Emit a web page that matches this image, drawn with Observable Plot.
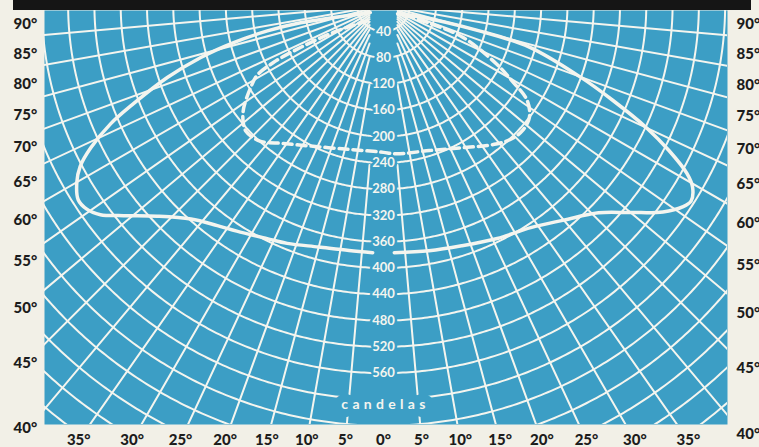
<!DOCTYPE html>
<html><head><meta charset="utf-8">
<script src="https://cdn.jsdelivr.net/npm/d3@7"></script>
<script src="https://cdn.jsdelivr.net/npm/@observablehq/plot@0.6"></script>
<style>
body{margin:0;background:#f2f0e7;}
#wrap{position:relative;width:759px;height:447px;overflow:hidden;background:#f2f0e7;}
#band{position:absolute;left:13px;top:0;width:738px;height:10px;background:#151515;}
</style></head><body><div id="wrap"><div id="chart"></div><div id="band"></div></div>
<script>
// ---- data ----
const candelaTicks = [40, 80, 120, 160, 200, 240, 280, 320, 360, 400, 440, 480, 520, 560];
const arcValues = [40, 80, 120, 160, 200, 240, 280, 320, 360, 400, 440, 480, 520, 560, 600, 640, 680, 720, 760, 800, 840, 880];
const radialAngles = [5, 10, 15, 20, 25, 30, 35, 40, 45, 50, 55, 60, 65, 70, 75, 80, 85, 90];
const radialStartCd = [244, 123, 82, 62, 50, 43, 37, 33, 30, 28, 26, 25, 24, 23, 22, 22, 21, 21];
const lateralLabels = [-35, -30, -25, -20, -15, -10, -5, 0, 5, 10, 15, 20, 25, 30, 35];
const verticalLabels = [90, 85, 80, 75, 70, 65, 60, 55, 50, 45, 40];

// solid curve (angle from nadir in degrees, candelas), left and right halves
const solidLeftAngle = [-61, -76, -78, -77.5, -76, -74, -71.5, -68.5, -66.5, -64, -62, -60, -57.5, -55.5, -53.5, -51, -47, -42, -37, -33, -26.5, -22, -15, -8, -2.5];
const solidLeftCd    = [23, 78, 129, 181, 235, 290, 347, 409, 453, 496, 523, 539, 551, 548, 536, 509, 471, 438, 420, 410, 397, 391, 381, 377, 377];
const solidRightAngle = [59, 70.5, 75, 74, 70, 67.5, 65, 63, 61, 59.5, 57.5, 56, 53.5, 50, 46, 40, 33.5, 26, 18, 10.5, 2.5];
const solidRightCd    = [25, 47, 151, 231, 318, 377, 442, 488, 528, 546, 555, 549, 529, 491, 455, 427, 406, 395, 385, 380, 377];
// dashed curve, one path from left to right
const dashedAngle = [-46, -61.5, -63, -62.5, -61, -58, -53.5, -50.5, -47.5, -42.5, -36, -26.5, -14, -4, 0, 5, 17.5, 29, 39, 44, 48, 52.5, 56.5, 59.5, 62.5, 68, 68.5, 62.5];
const dashedCd    = [34, 87, 142, 189, 220, 239, 265, 277, 284, 280, 260, 240, 226, 223, 224, 227, 232, 248, 272, 282, 285, 280, 262, 227, 194, 130, 75, 27];

// ---- layout ----
const W = 759, H = 447;
const mL = 44, mR = 32, mT = 10, mB = 23;
const pxPerCd = 0.657, cx = 383, cy = 4.7;
const xDomain = [(mL - cx) / pxPerCd, (W - mR - cx) / pxPerCd];
const yDomain = [(mT - cy) / pxPerCd, (H - mB - cy) / pxPerCd];
const bottomLabelDepth = (H - 7 - cy) / pxPerCd;
const BLUE = "#3c9ec5", WHITE = "#f4f5ef", INK = "#1c1c1c";
const rad = d => d * Math.PI / 180;
const P = (a, c) => ({x: c * Math.sin(rad(a)), y: c * Math.cos(rad(a))});

const arcs = arcValues.flatMap(c => d3.range(-90, 90.001, 0.5).map(a => ({...P(a, c), id: c})));
const radials = [];
radialAngles.forEach((a, i) => {
  [-1, 1].forEach(s => {
    radials.push({...P(s * a, radialStartCd[i]), id: s * a});
    radials.push({...P(s * a, 1400), id: s * a});
  });
});
const solidL = solidLeftAngle.map((a, i) => P(a, solidLeftCd[i]));
const solidR = solidRightAngle.map((a, i) => P(a, solidRightCd[i]));
const dashed = dashedAngle.map((a, i) => P(a, dashedCd[i]));

const leftLab = verticalLabels.map(a => ({a, y: -xDomain[0] / Math.tan(rad(a))}));
const rightLab = verticalLabels.map(a => ({a, y: xDomain[1] / Math.tan(rad(a))}));
const bottomLab = lateralLabels.map(a => ({a, x: Math.tan(rad(a)) * bottomLabelDepth}));

const FONT = "Lato, 'DejaVu Sans', sans-serif";
const chart = Plot.plot({
  width: W, height: H,
  marginLeft: mL, marginRight: mR, marginTop: mT, marginBottom: mB,
  x: {domain: xDomain, axis: null},
  y: {domain: yDomain, reverse: true, axis: null},
  style: {background: "transparent", fontFamily: FONT},
  marks: [
    Plot.frame({fill: BLUE}),
    Plot.line(arcs, {x: "x", y: "y", z: "id", stroke: WHITE, strokeWidth: 2, clip: true}),
    Plot.line(radials, {x: "x", y: "y", z: "id", stroke: WHITE, strokeWidth: 2, clip: true}),
    Plot.text(candelaTicks, {x: 0, y: d => d, text: d => String(d), fill: WHITE, stroke: BLUE, strokeWidth: 5, paintOrder: "stroke", fontSize: 13, fontWeight: 700}),
    Plot.text(["candelas"], {x: 0, y: 600, text: d => d, fill: WHITE, stroke: BLUE, strokeWidth: 16, strokeLinejoin: "round", paintOrder: "stroke", fontSize: 14, fontWeight: 700, dy: 5, dx: 2}),
    Plot.line(solidL, {x: "x", y: "y", stroke: WHITE, strokeWidth: 3.5, curve: "catmull-rom", clip: true}),
    Plot.line(solidR, {x: "x", y: "y", stroke: WHITE, strokeWidth: 3.5, curve: "catmull-rom", clip: true}),
    Plot.line(dashed, {x: "x", y: "y", stroke: WHITE, strokeWidth: 3.5, strokeDasharray: "9,5", curve: "catmull-rom", clip: true}),
    Plot.text(leftLab, {y: "y", text: d => d.a + "°", frameAnchor: "left", dx: -31, dy: 19, textAnchor: "start", fill: INK, fontSize: 15, fontWeight: 900}),
    Plot.text(rightLab, {y: "y", text: d => d.a + "°", frameAnchor: "right", dx: 9, dy: 19, textAnchor: "start", fill: INK, fontSize: 15, fontWeight: 900}),
    Plot.text(bottomLab, {x: "x", text: d => Math.abs(d.a) + "°", frameAnchor: "bottom", dy: 20, fill: INK, fontSize: 15, fontWeight: 900})
  ]
});
d3.select(chart).selectAll("text").filter(function() { return this.textContent === "candelas"; })
  .style("letter-spacing", "4.3px");
document.getElementById("chart").appendChild(chart);
</script></body></html>
